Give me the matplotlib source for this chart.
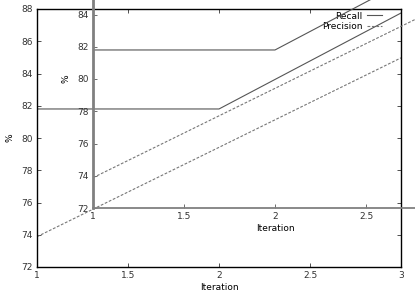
import matplotlib.pyplot as plt
from matplotlib.ticker import FormatStrFormatter

iteration = [1, 2, 3]
recall = [81.8, 81.8, 87.75]
precision = [73.88, 79.42, 84.97]

xticks = [1, 1.5, 2, 2.5, 3]
yticks = [72, 74, 76, 78, 80, 82, 84, 86, 88]

W, H = 415, 291
fig = plt.figure(figsize=(W / 100, H / 100), dpi=100)

# outer plot
ax = fig.add_axes([37 / W, (H - 267) / H, 364 / W, 258 / H])
# second copy of the same plot, shifted up and right
ax2 = fig.add_axes([93 / W, (H - 208) / H, 364 / W, 258 / H])
ax2.patch.set_alpha(0)

for a in (ax, ax2):
    a.plot(iteration, recall, color='#555555', lw=0.8, label='Recall')
    a.plot(iteration, precision, color='#777777', lw=0.8, dashes=(2.5, 1.5), label='Precision')
    a.set_xlim(1, 3)
    a.set_ylim(72, 88)
    a.set_xticks(xticks)
    a.set_yticks(yticks)
    a.xaxis.set_major_formatter(FormatStrFormatter('%g'))
    a.tick_params(direction='in', top=True, right=True, length=3, width=0.6,
                  labelsize=6.5, colors='#333333', pad=3)
    a.set_xlabel('Iteration', fontsize=6.5, labelpad=2)
    a.set_ylabel('%', fontsize=6.5, labelpad=5)

for s in ax.spines.values():
    s.set_color('black')
    s.set_linewidth(1.0)

for s in ax2.spines.values():
    s.set_color('#808080')
ax2.spines['left'].set_linewidth(2.0)
ax2.spines['bottom'].set_linewidth(1.3)
ax2.tick_params(color='#555555')

ax.legend(loc='upper right', bbox_to_anchor=(0.948, 0.99), frameon=False,
          markerfirst=False, fontsize=6.5, handlelength=1.7, handletextpad=0.5,
          labelspacing=0.15, borderaxespad=0, borderpad=0)

plt.savefig('out.png', dpi=100)
